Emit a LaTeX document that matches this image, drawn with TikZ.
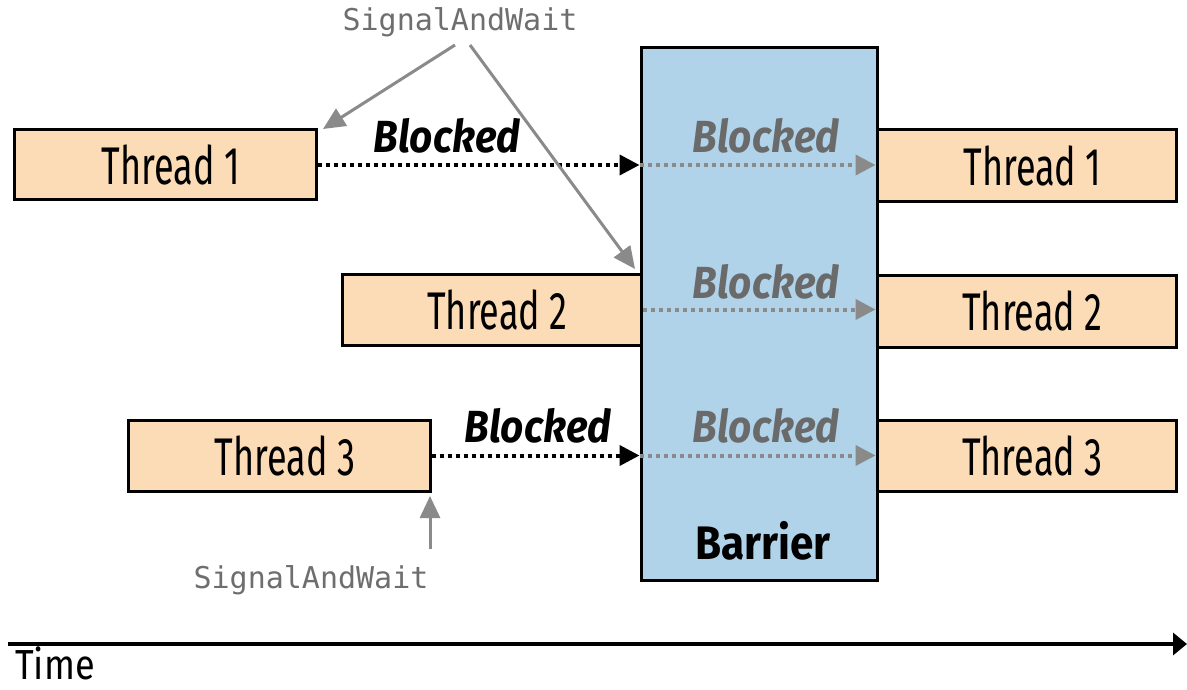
\documentclass[tikz,border=0pt]{standalone}
\usepackage{fontspec}
\usetikzlibrary{arrows.meta}
\newfontfamily\condf[FakeStretch=0.68]{Fira Sans}
\newfontfamily\timef[FakeStretch=0.86]{Fira Sans}
\newfontfamily\blkf[FakeStretch=0.9]{Fira Sans}
\newfontfamily\barf[FakeStretch=0.9]{Fira Sans}
\newfontfamily\monof{DejaVu Sans Mono}
\definecolor{peach}{HTML}{FCDCB6}
\definecolor{barblue}{HTML}{B0D3EA}
\definecolor{arrgray}{HTML}{8A8A8A}
\definecolor{txtgray}{HTML}{6A6A6A}
\definecolor{siggray}{HTML}{6E6E6E}
\tikzset{
  thr/.style={draw=black, line width=3pt, fill=peach, inner sep=0pt,
    font=\condf\fontsize{53}{53}\selectfont},
  bar/.style={draw=black, line width=3pt, fill=barblue, inner sep=0pt},
  blk/.style={font=\blkf\bfseries\itshape\fontsize{45}{45}\selectfont, inner sep=0pt},
  sig/.style={font=\monof\fontsize{30}{30}\selectfont, text=siggray, inner sep=0pt},
  dotblack/.style={line width=4pt, black, dash pattern=on 4pt off 4pt,
    -{Triangle[length=20pt,width=20pt]}},
  dotgray/.style={line width=4pt, arrgray, dash pattern=on 4pt off 4pt,
    -{Triangle[length=20pt,width=20pt]}},
  sigarrow/.style={line width=3pt, arrgray, -{Triangle[length=22pt,width=20pt]}},
}
\begin{document}
\begin{tikzpicture}[x=1pt,y=-1pt]
\useasboundingbox (0,0) rectangle (1187,690);
% barrier
\node[bar, minimum width=236pt, minimum height=532pt] (bar) at (759,314) {};
\node[font=\barf\bfseries\fontsize{47}{47}\selectfont, inner sep=0pt] (barl) at (763,541) {Barrier};
% left threads
\node[thr, minimum width=302pt, minimum height=70pt] (t1l) at (165,165) {\hspace{12pt}Thread 1};
\node[thr, minimum width=299pt, minimum height=71pt] (t2l) at (491.5,309.5) {\hspace{12pt}Thread 2};
\node[thr, minimum width=302pt, minimum height=71pt] (t3l) at (279,455.5) {\hspace{12pt}Thread 3};
% right threads
\node[thr, minimum width=299pt, minimum height=72pt] (t1r) at (1026.5,166) {\hspace{12pt}Thread 1};
\node[thr, minimum width=299pt, minimum height=72pt] (t2r) at (1026.5,311) {\hspace{12pt}Thread 2};
\node[thr, minimum width=299pt, minimum height=71pt] (t3r) at (1026.5,455.5) {\hspace{12pt}Thread 3};
% blocked labels
\node[blk] (b1) at (447,136) {Blocked};
\node[blk] (b3) at (538,426) {Blocked};
\node[blk, text=txtgray] (g1) at (766,136) {Blocked};
\node[blk, text=txtgray] (g2) at (766,282) {Blocked};
\node[blk, text=txtgray] (g3) at (766,426) {Blocked};
% dotted arrows
\coordinate (e1) at (t1l.east -| bar.west);
\coordinate (e3) at (t3l.east -| bar.west);
\draw[dotblack] (t1l.east) -- (e1);
\draw[dotgray] (e1) -- (e1 -| t1r.west);
\draw[dotgray] (t2l.east) -- (t2l.east -| t2r.west);
\draw[dotblack] (t3l.east) -- (e3);
\draw[dotgray] (e3) -- (e3 -| t3r.west);
% SignalAndWait labels
\node[sig] (s1) at (460,22) {SignalAndWait};
\node[sig] (s2) at (311,580) {SignalAndWait};
\coordinate (s1a) at (455,45);
\coordinate (s1b) at (470,45);
\coordinate (tip1) at (323,129);
\coordinate (tip2) at (635,269);
\coordinate (s2a) at (430,549);
\coordinate (tip3) at (430,496);
\draw[sigarrow] (s1a) -- (tip1);
\draw[sigarrow] (s1b) -- (tip2);
\draw[sigarrow] (s2a) -- (tip3);
% time axis
\coordinate (ta) at (8,644);
\coordinate (tb) at (1187,644);
\draw[line width=4pt, -{Triangle[length=14pt,width=22pt]}] (ta) -- (tb);
\node[font=\timef\fontsize{42}{42}\selectfont, anchor=base west, inner sep=0pt] (time) at (15,679) {Time};
\end{tikzpicture}
\end{document}
